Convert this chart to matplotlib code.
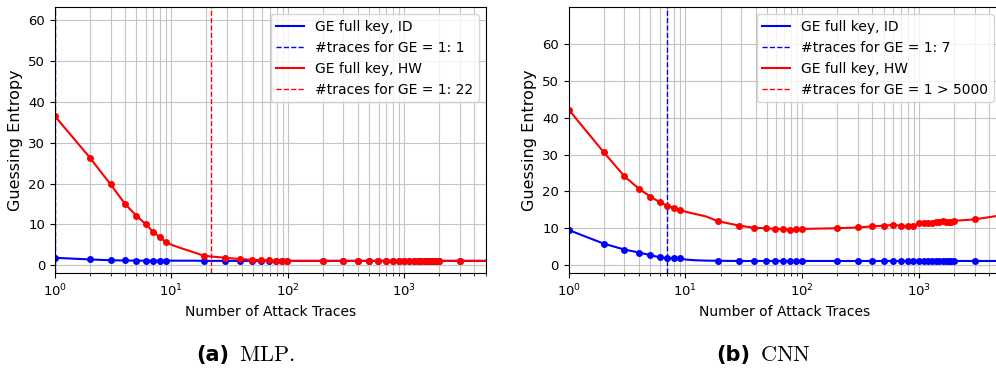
import matplotlib
matplotlib.use("Agg")
import matplotlib.pyplot as plt

# x positions of the GE samples (markers sit on the ones in marked_x)
xs = [1, 2, 3, 4, 5, 6, 7, 8, 9, 10, 12, 15,
      19, 29, 39, 49, 59, 69, 79, 89, 99,
      199, 299, 399, 499, 599, 699, 799, 899, 999,
      1099, 1199, 1299, 1399, 1499, 1599, 1699, 1799, 1899, 1999,
      2999, 4000, 5000]
marked_x = [1, 2, 3, 4, 5, 6, 7, 8, 9,
            19, 29, 39, 49, 59, 69, 79, 89, 99,
            199, 299, 399, 499, 599, 699, 799, 899, 999,
            1099, 1199, 1299, 1399, 1499, 1599, 1699, 1799, 1899, 1999,
            2999]

# MLP
mlp_id = [1.8, 1.4, 1.2, 1.15, 1.1, 1.1, 1.1, 1.1, 1.1, 1.1, 1.1, 1.1,
          1.05, 1.05, 1.05, 1.05, 1.05, 1.05, 1.05, 1.05, 1.05,
          1.05, 1.05, 1.05, 1.05, 1.05, 1.05, 1.05, 1.05, 1.05,
          1.05, 1.05, 1.05, 1.05, 1.05, 1.05, 1.05, 1.05, 1.05, 1.05,
          1.05, 1.05, 1.05]
mlp_hw = [36.5, 26.3, 19.8, 15.0, 12.1, 10.1, 8.1, 6.8, 5.6, 5.0, 4.2, 3.3,
          2.3, 1.8, 1.5, 1.3, 1.2, 1.15, 1.1, 1.1, 1.05,
          1.05, 1.05, 1.05, 1.05, 1.05, 1.05, 1.05, 1.05, 1.05,
          1.05, 1.05, 1.05, 1.05, 1.05, 1.05, 1.05, 1.05, 1.05, 1.05,
          1.05, 1.05, 1.05]
mlp_ge1_id = 1
mlp_ge1_hw = 22

# CNN
cnn_id = [9.5, 5.8, 4.2, 3.4, 2.7, 2.1, 1.9, 1.8, 1.8, 1.5, 1.3, 1.2,
          1.15, 1.1, 1.1, 1.1, 1.1, 1.1, 1.1, 1.1, 1.1,
          1.1, 1.1, 1.1, 1.1, 1.1, 1.1, 1.1, 1.1, 1.1,
          1.1, 1.1, 1.1, 1.1, 1.1, 1.1, 1.1, 1.1, 1.1, 1.1,
          1.1, 1.1, 1.1]
cnn_hw = [42.2, 30.6, 24.1, 20.7, 18.6, 17.1, 16.1, 15.5, 15.0, 14.5, 13.9, 13.2,
          11.9, 10.7, 10.1, 10.0, 9.8, 9.8, 9.6, 9.8, 9.8,
          10.0, 10.2, 10.5, 10.7, 10.9, 10.7, 10.5, 10.7, 11.3,
          11.4, 11.5, 11.5, 11.6, 11.7, 12.0, 11.8, 11.7, 11.8, 12.0,
          12.4, 13.0, 13.5]
cnn_ge1_id = 7
cnn_ge1_hw = 5000

marks = [x in marked_x for x in xs]

fig = plt.figure(figsize=(9.96, 3.76), dpi=100)
ax1 = fig.add_axes([0.0552, 0.2731, 0.4325, 0.7075])
# right panel runs slightly past the figure edge, as in the cropped original
ax2 = fig.add_axes([0.571, 0.2731, 0.4335, 0.7075])


def draw(ax, ge_id, ge_hw, n_id, n_hw, hw_label, ylim):
    ax.plot(xs, ge_id, color="blue", lw=1.5, label="GE full key, ID")
    ax.plot(xs, ge_id, color="blue", lw=0, marker="o", ms=4, markevery=marks)
    ax.axvline(n_id, color="blue", ls="--", lw=1, label="#traces for GE = 1: %d" % n_id)
    ax.plot(xs, ge_hw, color="red", lw=1.5, label="GE full key, HW")
    ax.plot(xs, ge_hw, color="red", lw=0, marker="o", ms=4, markevery=marks)
    ax.axvline(n_hw, color="red", ls="--", lw=1, label=hw_label)
    ax.set_xscale("log")
    ax.set_xlim(1, 5000)
    ax.set_ylim(*ylim)
    ax.set_yticks([0, 10, 20, 30, 40, 50, 60])
    ax.grid(True, which="both", color="#c4c4c4", lw=0.8)
    ax.tick_params(labelsize=9.5)
    ax.set_xlabel("Number of Attack Traces", fontsize=10)
    ax.set_ylabel("Guessing Entropy", fontsize=11.5)
    ax.legend(loc="upper right", fontsize=10)


draw(ax1, mlp_id, mlp_hw, mlp_ge1_id, mlp_ge1_hw,
     "#traces for GE = 1: %d" % mlp_ge1_hw, (-2, 63.2))
draw(ax2, cnn_id, cnn_hw, cnn_ge1_id, cnn_ge1_hw,
     "#traces for GE = 1 > %d" % cnn_ge1_hw, (-2.25, 70))

# sub-figure captions
fig.text(0.2135, 0.056, "(a)", fontsize=15, fontweight="bold", ha="center", va="center")
fig.text(0.268, 0.056, r"$\mathrm{MLP.}$", fontsize=16, math_fontfamily="cm",
         ha="center", va="center")
fig.text(0.736, 0.056, "(b)", fontsize=15, fontweight="bold", ha="center", va="center")
fig.text(0.789, 0.056, r"$\mathrm{CNN}$", fontsize=16, math_fontfamily="cm",
         ha="center", va="center")

fig.savefig("out.png", dpi=100)
